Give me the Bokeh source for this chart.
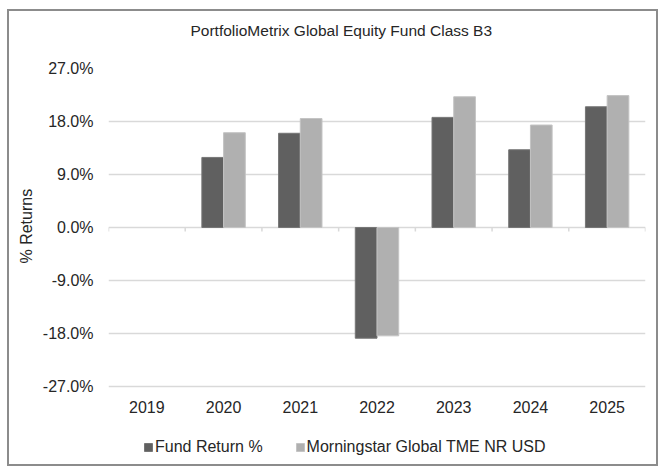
from bokeh.plotting import figure
from bokeh.models import (ColumnDataSource, FactorRange, Range1d, FixedTicker,
                          PrintfTickFormatter, Legend, LegendItem, Title)
from bokeh.core.properties import value
from bokeh.transform import dodge
from bokeh.embed import file_html
from bokeh.resources import INLINE

years = ["2019", "2020", "2021", "2022", "2023", "2024", "2025"]
fund_return = [None, 11.9, 16.0, -18.8, 18.7, 13.2, 20.5]
benchmark = [None, 16.1, 18.5, -18.4, 22.2, 17.4, 22.4]
y_ticks = [-27, -18, -9, 0, 9, 18, 27]
title_text = "PortfolioMetrix Global Equity Fund Class B3"
y_label = "% Returns"
series_names = ["Fund Return %", "Morningstar Global TME NR USD"]

def clean(v):
    return [float("nan") if x is None else x for x in v]

src = ColumnDataSource(dict(year=years, fund=clean(fund_return), bench=clean(benchmark)))

FONT = "Liberation Sans"
FS = "16px"
TXT = "#262626"
GRID = "#d9d9d9"

# layout: value area is 318px tall; the frame extends 78px below it to hold
# the category labels and the legend
AREA_H = 318
EXTRA_H = 78
px_per_unit = AREA_H / (y_ticks[-1] - y_ticks[0])
y_start = y_ticks[0] - EXTRA_H / px_per_unit

p = figure(x_range=FactorRange(*years), y_range=Range1d(y_start, y_ticks[-1]),
           frame_width=537, frame_height=AREA_H + EXTRA_H,
           min_border_left=99, min_border_right=11, min_border_top=57, min_border_bottom=0,
           output_backend="svg", toolbar_location=None)
p.styles = {"border": "2px solid #8c8c8c", "margin-left": "7px", "margin-top": "9px"}
p.outline_line_color = None
p.background_fill_color = "white"
p.border_fill_color = "white"

# title (with a blank spacer between it and the plot frame)
p.add_layout(Title(text=" ", text_font_size="1px", standoff=22), "above")
p.add_layout(Title(text=title_text, align="left", offset=82, text_font=FONT,
                   text_font_size="15.5px", text_font_style="normal", text_color=TXT,
                   standoff=10), "above")

bw = 0.283
r1 = p.vbar(x=dodge("year", -bw / 2, range=p.x_range), top="fund", width=bw, source=src,
            fill_color="#606060", line_color="#767676", line_width=1)
r2 = p.vbar(x=dodge("year", bw / 2, range=p.x_range), top="bench", width=bw, source=src,
            fill_color="#b0b0b0", line_color="#c4c4c4", line_width=1)

# tick marks on the zero line at category boundaries
bounds = list(range(len(years) + 1))
tick_len = 4 / px_per_unit
p.segment(x0=bounds, y0=[0] * len(bounds), x1=bounds, y1=[-tick_len] * len(bounds),
          line_color=GRID, line_width=1.5)

# category labels below the value area
label_y = y_ticks[0] - 20 / px_per_unit
p.text(x=years, y=[label_y] * len(years), text=years, text_font=value(FONT),
       text_font_size=FS, text_color=TXT, text_align="center", text_baseline="middle")

# y axis
p.yaxis.ticker = FixedTicker(ticks=y_ticks)
p.yaxis.formatter = PrintfTickFormatter(format="%.1f%%")
p.yaxis.axis_line_color = None
p.yaxis.major_tick_line_color = None
p.yaxis.minor_tick_line_color = None
p.yaxis.major_tick_out = 0
p.yaxis.major_tick_in = 0
p.yaxis.major_label_standoff = 15
p.yaxis.major_label_text_font = FONT
p.yaxis.major_label_text_font_size = FS
p.yaxis.major_label_text_color = TXT

# y axis title, centred on the value area
p.add_layout(Title(text=y_label, align="left", offset=EXTRA_H + AREA_H / 2 - 36,
                   vertical_align="bottom", text_font=FONT, text_font_size=FS,
                   text_font_style="normal", text_color=TXT, standoff=10), "left")

p.xaxis.visible = False
p.xgrid.grid_line_color = None
p.ygrid.ticker = FixedTicker(ticks=y_ticks)
p.ygrid.grid_line_color = GRID
p.ygrid.grid_line_width = 1.5

legend = Legend(items=[LegendItem(label=series_names[0], renderers=[r1]),
                       LegendItem(label=series_names[1], renderers=[r2])],
                orientation="horizontal", location=(35, 8))
legend.border_line_color = None
legend.background_fill_alpha = 0
legend.label_text_font = FONT
legend.label_text_font_size = FS
legend.label_text_color = TXT
legend.glyph_width = 10
legend.glyph_height = 10
legend.label_height = 10
legend.label_standoff = 2
legend.spacing = 32
legend.padding = 0
legend.margin = 0
p.add_layout(legend, "center")

open("out.html", "w").write(file_html(p, INLINE))
